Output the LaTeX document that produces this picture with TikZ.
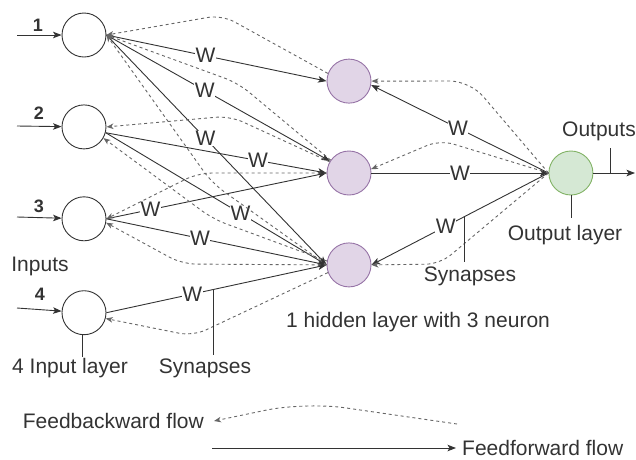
\documentclass[tikz,border=0pt]{standalone}
\usepackage{fontspec}
\setmainfont{Liberation Sans}
\usetikzlibrary{arrows.meta,positioning}
\definecolor{hidfill}{HTML}{E1D5E7}
\definecolor{hidframe}{HTML}{9673A6}
\definecolor{outfill}{HTML}{D5E8D4}
\definecolor{outframe}{HTML}{82B366}
\definecolor{linegray}{HTML}{333333}
\definecolor{dashgray}{HTML}{666666}

\begin{document}
\begin{tikzpicture}[
  x=1pt, y=-1pt,
  font=\fontsize{21}{25}\selectfont,
  neuron/.style={circle, draw=linegray, fill=white, minimum size=44pt, inner sep=0pt, line width=0.9pt},
  hid/.style={neuron, draw=hidframe, fill=hidfill},
  outn/.style={neuron, draw=outframe, fill=outfill},
  ff/.style={-{Stealth[length=8.5pt,width=6.5pt,inset=2pt]}, draw=linegray, line width=0.9pt},
  fb/.style={-{Stealth[length=7pt,width=5.5pt,inset=2pt]}, draw=dashgray, line width=0.9pt,
             dash pattern=on 3pt off 3pt, rounded corners=14pt},
  wlab/.style={fill=white, inner sep=0.5pt, text=linegray},
  lbl/.style={inner sep=0pt, text=linegray},
  num/.style={lbl, font=\fontsize{18}{20}\selectfont\bfseries},
  tick/.style={draw=linegray, line width=0.9pt},
  node distance=47pt
]
\useasboundingbox (0,0) rectangle (636,459);

% Input layer
\node[neuron]                  (in1) at (84,35) {};
\node[neuron, below=of in1]    (in2) {};
\node[neuron, below=of in2]    (in3) {};
\node[neuron, below=49pt of in3] (in4) {};

% Hidden layer and output neuron
\node[hid]                     (hid2) at (349,173) {};
\node[hid, above=of hid2]      (hid1) {};
\node[hid, below=of hid2]      (hid3) {};
\node[outn, right=177pt of hid2] (out) {};

% Input arrows with their numbers
\coordinate (src1) at (17,35);
\coordinate (src2) at (17,126);
\coordinate (src3) at (17,217);
\coordinate (src4) at (17,308);
\draw[ff] (src1) -- (in1);
\draw[ff] (src2) -- (in2);
\draw[ff] (src3) -- (in3);
\draw[ff] (src4) -- (in4);
\node[num] (n1) at (38,25)  {1};
\node[num] (n2) at (39,113) {2};
\node[num] (n3) at (39,206) {3};
\node[num] (n4) at (40,294) {4};
\node[lbl] (inlbl) at (40,266) {Inputs};

% Feedforward synapses, input -> hidden
\draw[ff] (in1.east) -- node[wlab, pos=0.45] {W} (hid1.west);
\draw[ff] (in1.east) -- node[wlab, pos=0.44] {W} (hid2.148);
\draw[ff] (in1.east) -- node[wlab, pos=0.45] {W} (hid3.west);
\draw[ff] (in2.-15) -- node[wlab, pos=0.69] {W} (hid2.west);
\draw[ff] (in2.-15) -- node[wlab, pos=0.61] {W} (hid3.west);
\draw[ff] (in3.east) -- node[wlab, pos=0.2]  {W} (hid2.west);
\draw[ff] (in3.east) -- node[wlab, pos=0.425] {W} (hid3.west);
\draw[ff] (in4.east) -- node[wlab, pos=0.39] {W} (hid3.west);

% Synapses between hidden layer and output
\draw[ff] (out.west)  -- node[wlab, pos=0.51] {W} (hid1.-10);
\draw[ff] (hid2.east) -- node[wlab, pos=0.5]  {W} (out.west);
\draw[ff] (out.west)  -- node[wlab, pos=0.58] {W} (hid3.east);

% Feedbackward flow (dashed)
\draw[fb] (hid1.160) -- (222,15)  -- (in1.east);
\draw[fb] (hid2.145) -- (238,83)  -- (in1.east);
\draw[fb] (hid3.west) -- (212,183) -- (in1.east);
\draw[fb] (hid2.150) -- (230,116) -- (in2.east);
\draw[fb] (hid3.170) -- (213,219) -- (in2.-30);
\draw[fb] (hid2.west) -- (198,173) -- (in3.east);
\draw[fb] (hid3.west) -- (182,264) -- (in3.-10);
\draw[fb] (hid3.-160) -- (193,336) -- (in4.-15);
\draw[fb, rounded corners=20pt] (out.west) -- (470,81) -- (hid1.east);
\draw[fb] (out.west) -- (440,140) -- (hid2.10);
\draw[fb] (out.west) -- (440,264) -- (hid3.east);

% Output arrow
\coordinate (sink) at (635,173);
\draw[ff] (out) -- (sink);

% Labels with their pointer ticks
\node[lbl, anchor=west] (outs) at (562,131) {Outputs};
\coordinate (outtick) at (610,148);
\draw[tick] (outtick) -- (outtick |- out.east);

\node[lbl] (outlbl) at (565,235) {Output layer};
\coordinate (outlayertick) at (571,218);
\draw[tick] (out.south -| outlayertick) -- (outlayertick);

\node[lbl] (synr) at (470,276) {Synapses};
\coordinate (synrtop) at (464,217);
\coordinate (synrbot) at (464,262);
\draw[tick] (synrtop) -- (synrbot);

\node[lbl] (hidlbl) at (418,322) {1 hidden layer with 3 neuron};

\node[lbl] (inlayer) at (70,368) {4 Input layer};
\coordinate (inlayertick) at (82,357);
\draw[tick] (in4.south -| inlayertick) -- (inlayertick);

\node[lbl] (synl) at (205,368) {Synapses};
\coordinate (synltop) at (213,290);
\coordinate (synlbot) at (213,355);
\draw[tick] (synltop) -- (synlbot);

% Legend
\node[lbl, anchor=east] (fbtxt) at (204,421) {Feedbackward flow};
\coordinate (fbstart) at (457,424);
\coordinate (fbpeak) at (305,402);
\draw[fb, rounded corners=40pt] (fbstart) -- (fbpeak) -- ([xshift=10pt]fbtxt.east);

\node[lbl, anchor=west] (fftxt) at (462,448) {Feedforward flow};
\coordinate (ffstart) at (212,448);
\draw[ff] (ffstart) -- ([xshift=-6pt]fftxt.west);
\end{tikzpicture}
\end{document}
